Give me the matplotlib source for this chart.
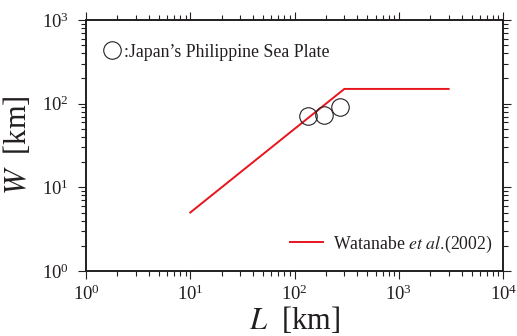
"""W-L scaling plot: Philippine Sea Plate events vs Watanabe et al. (2002)."""
import matplotlib
matplotlib.use("Agg")
import matplotlib.pyplot as plt
from matplotlib.lines import Line2D

# Philippine Sea Plate events
plate_L = [133, 192, 273]
plate_W = [71, 74, 92]

# Watanabe et al. (2002) scaling line
watanabe_L = [10, 300, 3000]
watanabe_W = [5, 150, 150]

RED = "#e8141c"
INK = "#231f20"

plt.rcParams["font.family"] = "serif"
plt.rcParams["font.serif"] = ["Liberation Serif", "DejaVu Serif"]
plt.rcParams["mathtext.fontset"] = "stix"
plt.rcParams["text.color"] = INK
plt.rcParams["axes.labelcolor"] = INK

fig = plt.figure(figsize=(5.17, 3.36), dpi=100)
ax = fig.add_axes([0.1663, 0.1935, 0.807, 0.747])

ax.plot(watanabe_L, watanabe_W, color=RED, linewidth=1.4, zorder=2)
ax.plot(plate_L, plate_W, linestyle="none", marker="o", markersize=12.6,
        markerfacecolor="none", markeredgecolor=INK, markeredgewidth=0.8, zorder=3)

ax.set_xscale("log")
ax.set_yscale("log")
ax.set_xlim(1, 1e4)
ax.set_ylim(1, 1e3)

for side in ax.spines.values():
    side.set_linewidth(1.4)
    side.set_color(INK)
ax.tick_params(which="both", direction="out", top=True, right=True, width=0.8,
               color=INK, labelcolor=INK)
ax.tick_params(which="major", length=6)
ax.tick_params(which="minor", length=3.3)
ax.tick_params(axis="x", which="major", labelsize=13.5, pad=3.5)
ax.tick_params(axis="y", which="major", labelsize=13.5, pad=6.5)

ax.set_xlabel("$L$  [km]", fontsize=22, va="top")
ax.xaxis.set_label_coords(0.5, -0.135)
ax.set_ylabel("$W$  [km]", fontsize=22)
ax.yaxis.set_label_coords(-0.127, 0.5)

h_plate = Line2D([], [], linestyle="none", marker="o", markersize=12.6,
                 markerfacecolor="none", markeredgecolor=INK, markeredgewidth=0.8)
leg1 = ax.legend([h_plate], [":Japan\u2019s Philippine Sea Plate"], loc="center left",
                 bbox_to_anchor=(0.041, 0.872), frameon=False, fontsize=12.75,
                 handlelength=1.0, handletextpad=0.2, borderpad=0, borderaxespad=0)
ax.add_artist(leg1)

h_wat = Line2D([], [], color=RED, linewidth=1.4)
ax.legend([h_wat], ["Watanabe $\\it{et\\ al.}\\!$(2002)"], loc="center left",
          bbox_to_anchor=(0.489, 0.1076), frameon=False, fontsize=12.75,
          handlelength=1.86, handletextpad=0.57, borderpad=0, borderaxespad=0)

fig.savefig("out.png", dpi=100)
